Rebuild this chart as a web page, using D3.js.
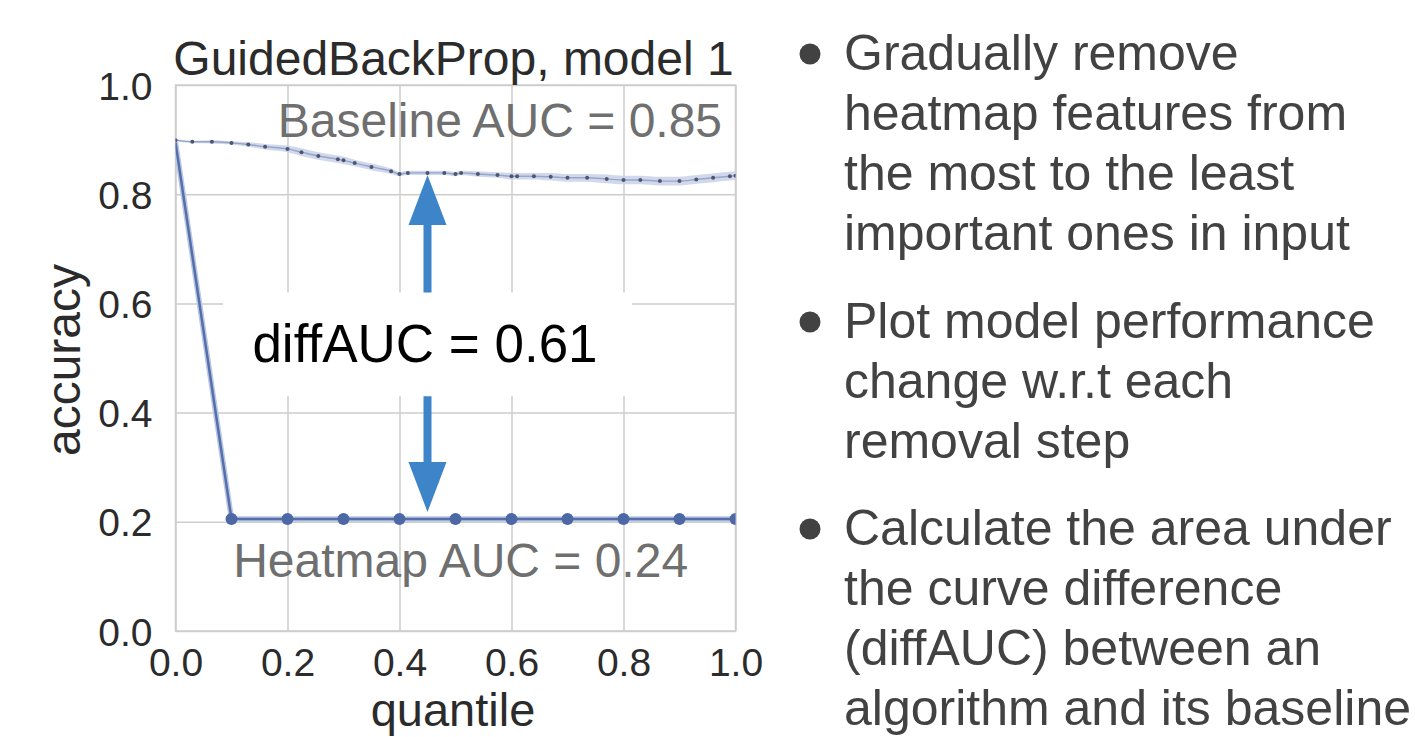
<!DOCTYPE html>
<html>
<head>
<meta charset="utf-8">
<script src="https://cdn.jsdelivr.net/npm/d3@7"></script>
<style>
  body { margin: 0; background: #fff; }
  text { font-family: "Liberation Sans", Arial, sans-serif; }
</style>
</head>
<body>
<svg id="chart" width="1415" height="737"></svg>
<script>
// baseline curve (random removal)
const baseQuantile = [0, 0.03, 0.065, 0.1, 0.13, 0.16, 0.2, 0.225, 0.255, 0.29, 0.3, 0.32, 0.35, 0.385, 0.4,
  0.415, 0.45, 0.48, 0.5, 0.51, 0.54, 0.575, 0.6, 0.61, 0.64, 0.67, 0.7, 0.735, 0.77, 0.8, 0.83, 0.865, 0.9,
  0.93, 0.96, 0.99, 1.0];
const baseAccuracy = [0.899, 0.896, 0.896, 0.894, 0.891, 0.887, 0.883, 0.877, 0.870, 0.864, 0.862, 0.857, 0.850,
  0.842, 0.837, 0.839, 0.839, 0.839, 0.837, 0.839, 0.837, 0.835, 0.833, 0.833, 0.833, 0.832, 0.830, 0.830, 0.828,
  0.826, 0.826, 0.824, 0.824, 0.827, 0.830, 0.833, 0.834];
const baseSpread = [0.002, 0.002, 0.003, 0.003, 0.004, 0.005, 0.006, 0.007, 0.007, 0.007, 0.007, 0.006, 0.006,
  0.005, 0.004, 0.004, 0.004, 0.004, 0.004, 0.004, 0.005, 0.005, 0.006, 0.006, 0.006, 0.007, 0.007, 0.007, 0.008,
  0.008, 0.008, 0.008, 0.008, 0.008, 0.008, 0.008, 0.008];

// heatmap curve (GuidedBackProp removal order)
const heatQuantile = [0, 0.1, 0.2, 0.3, 0.4, 0.5, 0.6, 0.7, 0.8, 0.9, 1.0];
const heatAccuracy = [0.895, 0.205, 0.205, 0.205, 0.205, 0.205, 0.205, 0.205, 0.205, 0.205, 0.205];

const xTicks = [0, 0.2, 0.4, 0.6, 0.8, 1.0];
const yTicks = [0, 0.2, 0.4, 0.6, 0.8, 1.0];

const title = 'GuidedBackProp, model 1';
const baselineLabel = 'Baseline AUC = 0.85';
const heatmapLabel = 'Heatmap AUC = 0.24';
const diffLabel = 'diffAUC = 0.61';

const bullets = [
  ['Gradually remove', 'heatmap features from', 'the most to the least', 'important ones in input'],
  ['Plot model performance', 'change w.r.t each', 'removal step'],
  ['Calculate the area under', 'the curve difference', '(diffAUC) between an', 'algorithm and its baseline']
];

const svg = d3.select('#chart');
svg.append('rect').attr('width', 1415).attr('height', 737).attr('fill', '#fff');

const plot = { left: 175.5, right: 735.5, top: 85, bottom: 631 };
const x = d3.scaleLinear().domain([0, 1]).range([plot.left, plot.right]);
const y = d3.scaleLinear().domain([0, 1]).range([plot.bottom, plot.top]);
const pw = plot.right - plot.left;
const ph = plot.bottom - plot.top;

const tickColor = '#2b2b2b';
const gridColor = '#cdcdcd';

// grid + tick labels
const xAxis = svg.append('g').attr('transform', 'translate(0,' + plot.bottom + ')')
  .call(d3.axisBottom(x).tickValues(xTicks).tickSize(-ph).tickPadding(17).tickFormat(d3.format('.1f')));
const yAxis = svg.append('g').attr('transform', 'translate(' + plot.left + ',0)')
  .call(d3.axisLeft(y).tickValues(yTicks).tickSize(-pw).tickPadding(23).tickFormat(d3.format('.1f')));
[xAxis, yAxis].forEach(g => {
  g.select('.domain').remove();
  g.selectAll('line').attr('stroke', gridColor).attr('stroke-width', 1.5);
  g.selectAll('text').attr('fill', tickColor).style('font-size', '39px')
    .style('font-family', '"Liberation Sans", Arial, sans-serif');
});
yAxis.selectAll('text').attr('dy', '0.36em');

svg.append('rect')
  .attr('x', plot.left).attr('y', plot.top).attr('width', pw).attr('height', ph)
  .attr('fill', 'none').attr('stroke', gridColor).attr('stroke-width', 1.5);

// white box behind the diffAUC label
svg.append('rect')
  .attr('x', x(0.085)).attr('y', y(0.62))
  .attr('width', x(0.815) - x(0.085)).attr('height', y(0.43) - y(0.62))
  .attr('fill', '#fff');

svg.append('clipPath').attr('id', 'clip')
  .append('rect').attr('x', plot.left).attr('y', plot.top).attr('width', pw).attr('height', ph);
const data = svg.append('g').attr('clip-path', 'url(#clip)');

// baseline band, line, markers
const baseRows = baseQuantile.map((q, i) => ({ q, v: baseAccuracy[i], s: baseSpread[i] }));
data.append('path').datum(baseRows)
  .attr('fill', '#c9d1e7').attr('fill-opacity', 0.85)
  .attr('d', d3.area().curve(d3.curveMonotoneX)
    .x(d => x(d.q)).y0(d => y(d.v - d.s)).y1(d => y(d.v + d.s)));
data.append('path').datum(baseRows)
  .attr('fill', 'none').attr('stroke', '#97a5cb').attr('stroke-width', 1.4)
  .attr('d', d3.line().curve(d3.curveMonotoneX).x(d => x(d.q)).y(d => y(d.v)));
data.selectAll('.bdot').data(baseRows).enter().append('circle')
  .attr('class', 'bdot')
  .attr('cx', d => x(d.q)).attr('cy', d => y(d.v)).attr('r', 2)
  .attr('fill', '#4d5670');

// heatmap curve
const heatRows = heatQuantile.map((q, i) => ({ q, v: heatAccuracy[i] }));
const heatLine = d3.line().x(d => x(d.q)).y(d => y(d.v));
data.append('path').datum(heatRows)
  .attr('fill', 'none').attr('stroke', '#bac6e2').attr('stroke-width', 5.5)
  .attr('d', heatLine);
data.append('path').datum(heatRows)
  .attr('fill', 'none').attr('stroke', '#5470ab').attr('stroke-width', 2.5)
  .attr('d', heatLine);
data.selectAll('.hdot').data(heatRows.slice(1)).enter().append('circle')
  .attr('class', 'hdot')
  .attr('cx', d => x(d.q)).attr('cy', d => y(d.v)).attr('r', 6)
  .attr('fill', '#4c69a6');

// title and axis labels
svg.append('text').attr('x', (plot.left + plot.right) / 2 - 2).attr('y', 75)
  .attr('text-anchor', 'middle').attr('fill', tickColor).style('font-size', '48px').text(title);
svg.append('text').attr('x', 453).attr('y', 726)
  .attr('text-anchor', 'middle').attr('fill', tickColor).style('font-size', '47px').text('quantile');
svg.append('text').attr('transform', 'translate(80,360) rotate(-90)')
  .attr('text-anchor', 'middle').attr('fill', tickColor).style('font-size', '48px').text('accuracy');

// AUC annotations
svg.append('text').attr('x', x(0.976)).attr('y', 137)
  .attr('text-anchor', 'end').attr('fill', '#6f6f6f').style('font-size', '48px').text(baselineLabel);
svg.append('text').attr('x', x(0.103)).attr('y', 577)
  .attr('fill', '#6f6f6f').style('font-size', '48px').text(heatmapLabel);

// arrows
const arrowColor = '#3d84c8';
const ax = x(0.45);
function arrow(from, tip) {
  const dir = Math.sign(tip - from);
  const base = tip - dir * 50;
  return 'M' + (ax - 4) + ',' + from + 'L' + (ax - 4) + ',' + base + 'L' + (ax - 19) + ',' + base +
    'L' + ax + ',' + tip + 'L' + (ax + 19) + ',' + base + 'L' + (ax + 4) + ',' + base + 'L' + (ax + 4) + ',' + from + 'Z';
}
svg.append('path').attr('d', arrow(y(0.62), y(0.835))).attr('fill', arrowColor);
svg.append('path').attr('d', arrow(y(0.43), y(0.218))).attr('fill', arrowColor);

svg.append('text').attr('x', 425).attr('y', 362)
  .attr('text-anchor', 'middle').attr('fill', '#000').style('font-size', '53px').text(diffLabel);

// bullet list
const bulletColor = '#424242';
const bulletTop = [70, 338, 545];
const lineGap = 60;
bullets.forEach((lines, i) => {
  svg.append('circle').attr('cx', 810).attr('cy', bulletTop[i] - 16).attr('r', 10.5).attr('fill', bulletColor);
  lines.forEach((t, j) => {
    svg.append('text').attr('x', 844).attr('y', bulletTop[i] + j * lineGap)
      .attr('fill', bulletColor).style('font-size', '50px').text(t);
  });
});
</script>
</body>
</html>
